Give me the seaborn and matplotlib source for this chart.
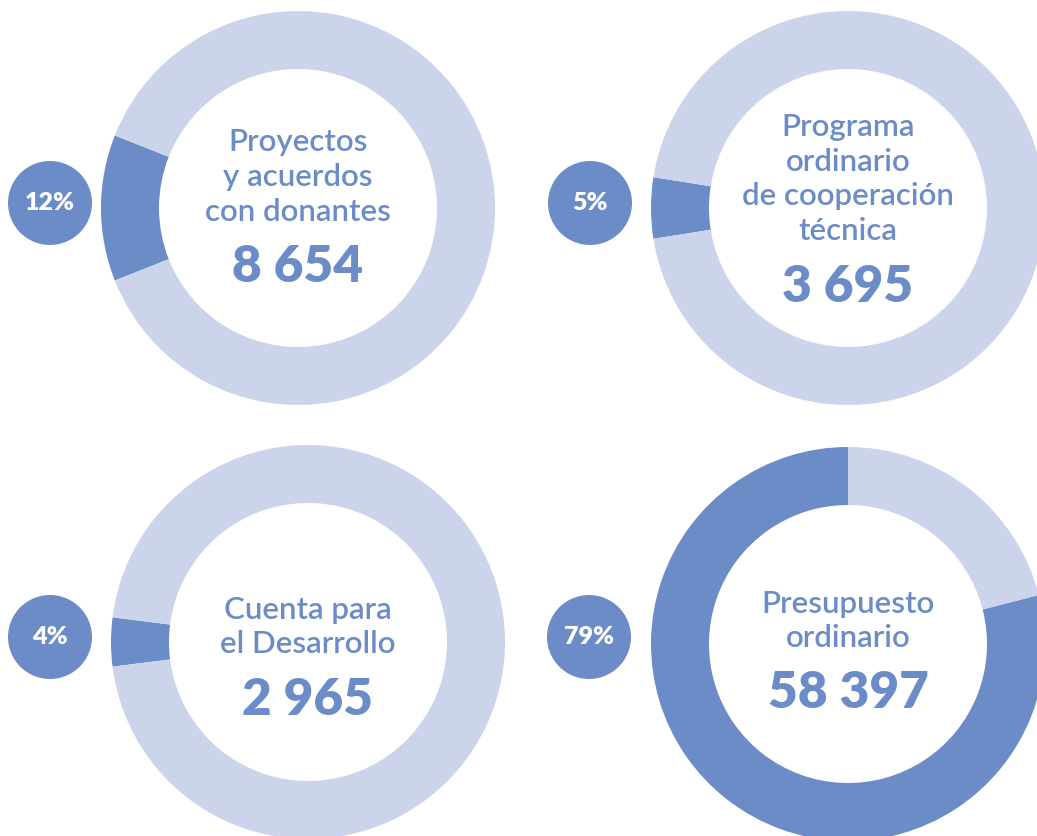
"""Four donut charts: share of each funding source with its total."""

import matplotlib.pyplot as plt
from matplotlib.patches import Circle
import seaborn as sns

# data
labels = [
    "Proyectos\ny acuerdos\ncon donantes",
    "Programa\nordinario\nde cooperación\ntécnica",
    "Cuenta para\nel Desarrollo",
    "Presupuesto\nordinario",
]
totals = ["8 654", "3 695", "2 965", "58 397"]
shares = [12, 5, 4, 79]

DARK = "#6b8cc7"
LIGHT = "#cbd4eb"

W, H = 1037, 836
# layout (pixel coordinates, y from top)
centers = [(298, 208), (848, 208), (308, 642), (848, 644)]
badge_xy = [(50, 203), (590, 203), (50, 637), (589, 637)]
label_y = [177, 179, 627, 621]
number_y = [267, 287, 700, 693]
R_OUT, RING = 197, 58

sns.set_theme(style="white")
plt.rcParams["font.family"] = ["Lato", "DejaVu Sans"]

fig = plt.figure(figsize=(W / 100, H / 100), dpi=100)
ax = fig.add_axes([0, 0, 1, 1])

for i, pct in enumerate(shares):
    cx, cy = centers[i]
    # small shares sit centred on the left, large share starts at the top
    start = 180 - pct * 3.6 / 2 if pct < 50 else 90
    ax.pie(
        [pct, 100 - pct],
        colors=[DARK, LIGHT],
        startangle=start,
        counterclock=True,
        center=(cx, H - cy),
        radius=R_OUT,
        wedgeprops=dict(width=RING, edgecolor="none", linewidth=0),
        frame=True,
    )
    bx, by = badge_xy[i]
    ax.add_patch(Circle((bx, H - by), 42, facecolor=DARK, edgecolor="none"))
    ax.text(bx, H - by, f"{pct}%", color="white", fontsize=18, fontweight="heavy",
            ha="center", va="center")
    ax.text(cx, H - label_y[i], labels[i], color=DARK, fontsize=22.5,
            fontweight="semibold", ha="center", va="center", linespacing=1.3)
    ax.text(cx, H - number_y[i], totals[i], color=DARK, fontsize=37,
            fontweight="heavy", ha="center", va="center")

ax.set_aspect("auto")
ax.set_xlim(0, W)
ax.set_ylim(0, H)
ax.axis("off")

fig.savefig("out.png", dpi=100, facecolor="white")
